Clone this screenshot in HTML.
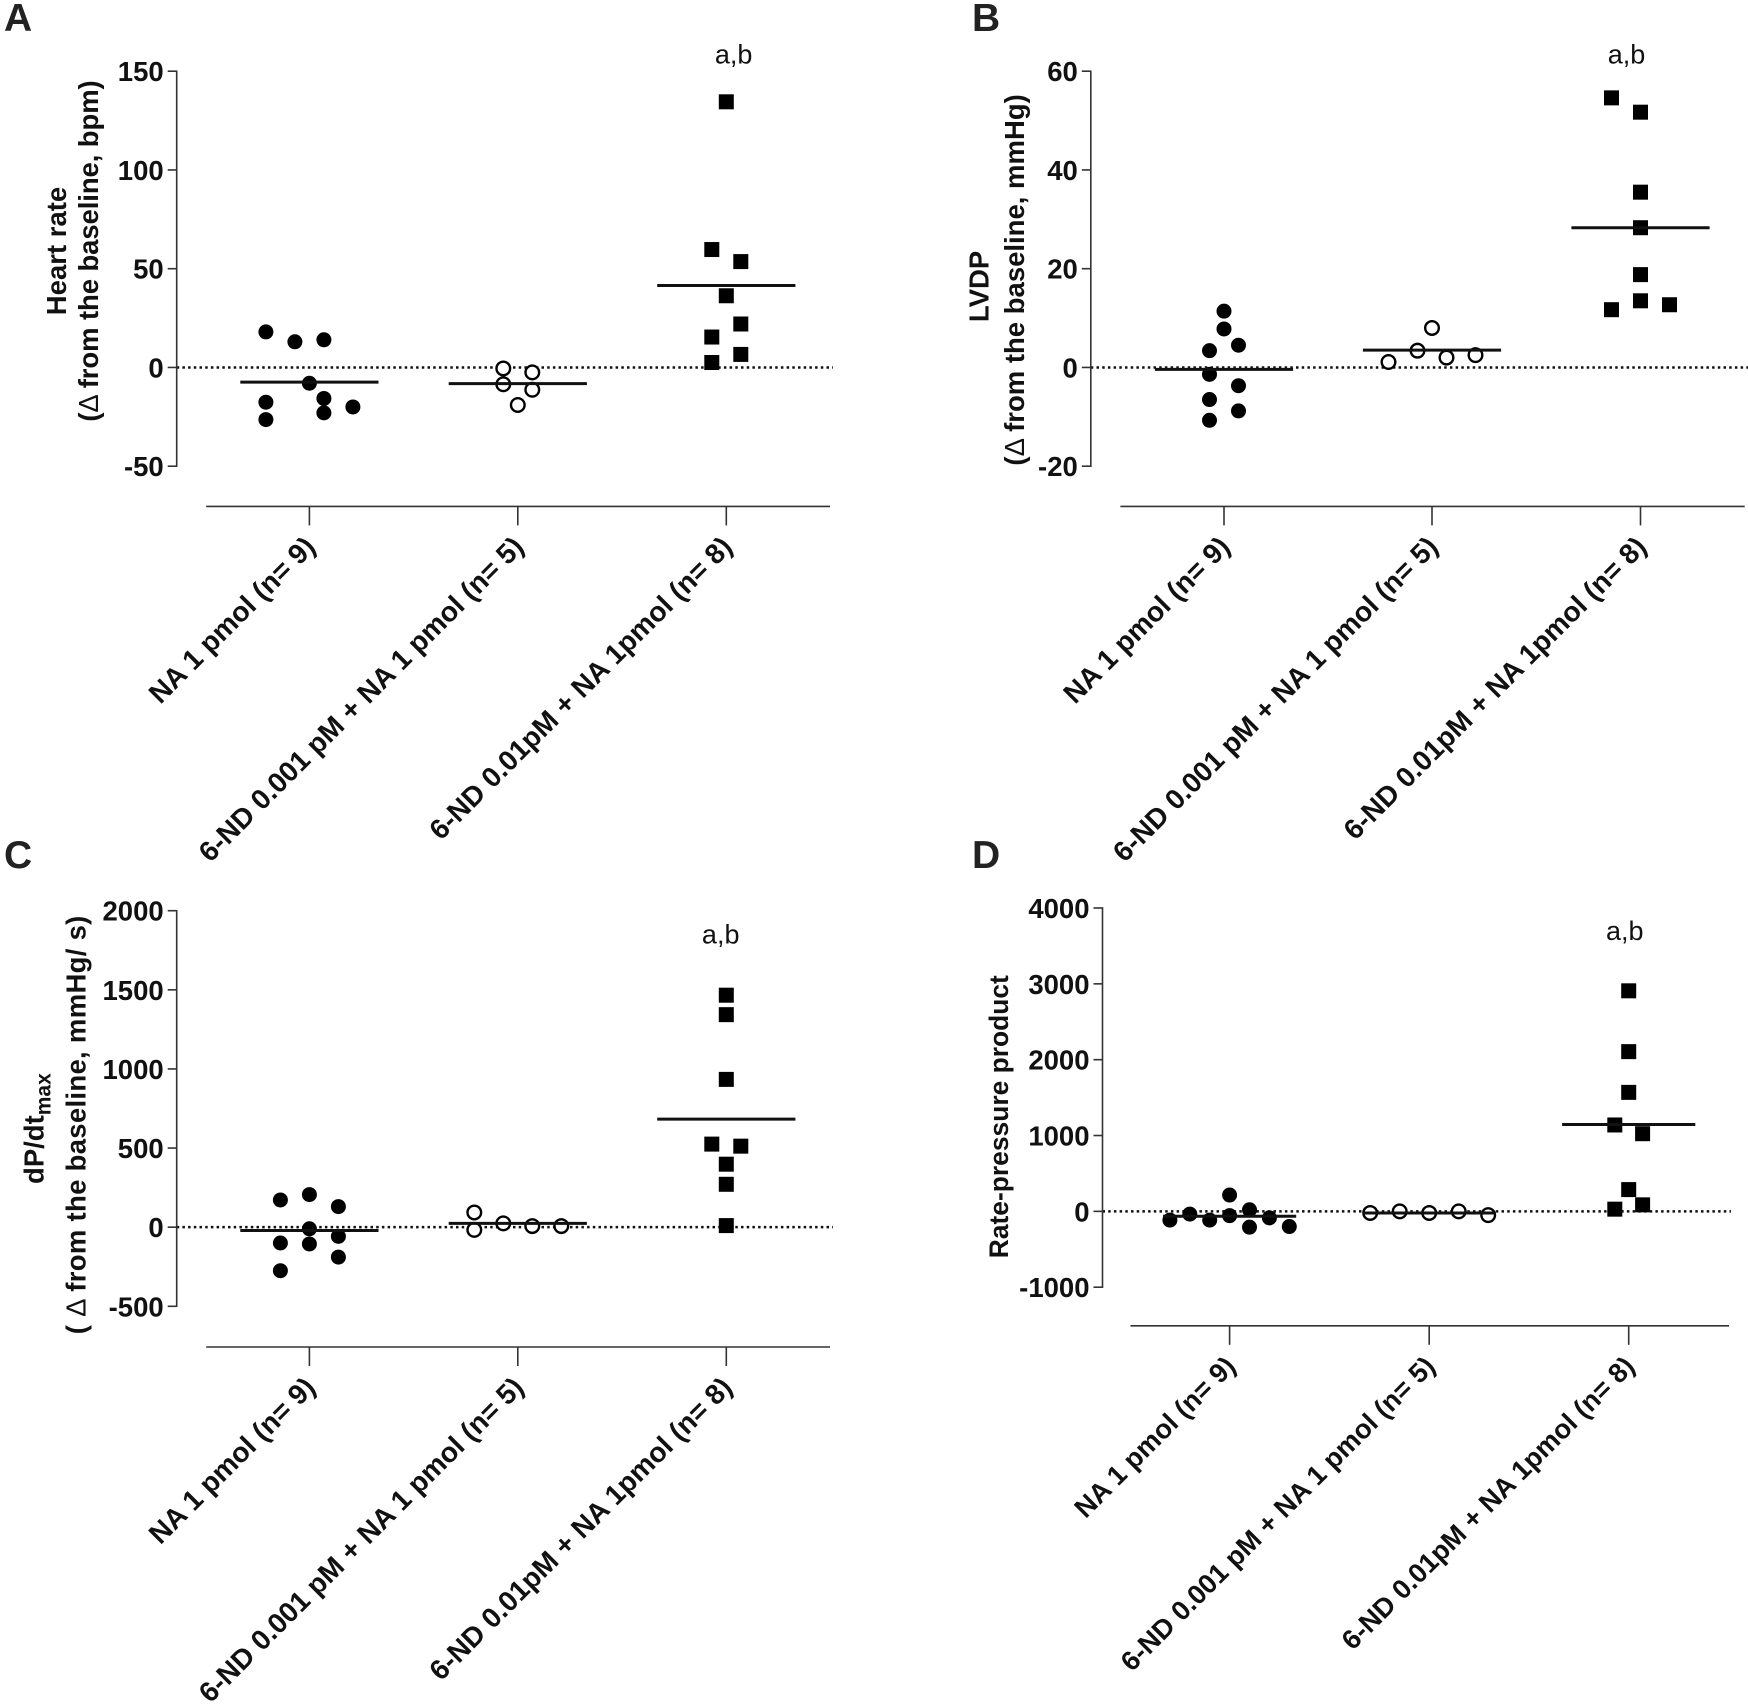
<!DOCTYPE html>
<html lang="en">
<head>
<meta charset="utf-8">
<title>Scatter plots of haemodynamic changes from baseline</title>
<style>
  html, body { margin: 0; padding: 0; background: #ffffff; }
  svg { display: block; font-family: "Liberation Sans", Arial, sans-serif; }
</style>
</head>
<body>
<svg id="figure" xmlns="http://www.w3.org/2000/svg" width="1748" height="1704" viewBox="0 0 1748 1704"></svg>
<script>
const categories = ["NA 1 pmol (n= 9)", "6-ND 0.001 pM + NA 1 pmol (n= 5)", "6-ND 0.01pM + NA 1pmol (n= 8)"];
const annotationLabel = "a,b";

const panelATicks = [150, 100, 50, 0, -50];
const panelAGroup1 = [18, 13, 14, -8, -17.6, -15.7, -20, -23, -26.4];
const panelAGroup2 = [-0.5, -2.5, -11.3, -8.5, -19];
const panelAGroup3 = [134.5, 59.7, 53.6, 36.3, 22, 15.4, 6.6, 2.5];
const panelAMeans = [-7.4, -8.2, 41.5];
const panelASlots1 = [-3, -1, 1, 0, -3, 1, 3, 1, -3];
const panelASlots2 = [-1, 1, 1, -1, 0];
const panelASlots3 = [0, -1, 1, 0, 1, -1, 1, -1];

const panelBTicks = [60, 40, 20, 0, -20];
const panelBGroup1 = [11.4, 7.8, 4.5, 3.4, -1.4, -3.7, -6.5, -8.8, -10.7];
const panelBGroup2 = [8, 3.4, 2.5, 2, 1.1];
const panelBGroup3 = [54.6, 51.7, 35.5, 28.3, 18.8, 13.5, 12.7, 11.7];
const panelBMeans = [-0.4, 3.5, 28.3];
const panelBSlots1 = [0, 0, 1, -1, -1, 1, -1, 1, -1];
const panelBSlots2 = [0, -1, 3, 1, -3];
const panelBSlots3 = [-2, 0, 0, 0, 0, 0, 2, -2];

const panelCTicks = [2000, 1500, 1000, 500, 0, -500];
const panelCGroup1 = [172, 206, 130, -10, -58, -100, -106, -189, -275];
const panelCGroup2 = [93, 24, 7, 7, -17];
const panelCGroup3 = [1466, 1343, 934, 525, 512, 398, 271, 10];
const panelCMeans = [-21, 24, 683];
const panelCSlots1 = [-2, 0, 2, 0, 2, -2, 0, 2, -2];
const panelCSlots2 = [-3, -1, 1, 3, -3];
const panelCSlots3 = [0, 0, 0, -1, 1, 0, 0, 0];

const panelDTicks = [4000, 3000, 2000, 1000, 0, -1000];
const panelDGroup1 = [-115, -36, -115, 215, -57, 21, -208, -86, -200];
const panelDGroup2 = [-21, 0, -21, 0, -50];
const panelDGroup3 = [2908, 2106, 1569, 1139, 1024, 287, 86, 29];
const panelDMeans = [-64, -21, 1146];
const panelDSlots1 = [-3, -2, -1, 0, 0, 1, 1, 2, 3];
const panelDSlots2 = [-2, -1, 0, 1, 2];
const panelDSlots3 = [0, 0, 0, -1, 1, 0, 1, -1];

const panels = [
  { id: "a", letter: "A", lx: 4, ly: 31,
    axisX: 176.7, top: 71.2, bottom: 466.2, dMax: 150, dMin: -50,
    baseY: 506.4, baseL: 206.2, baseR: 830, catX: [309.4, 517.8, 726.3], meanHalf: 69.1, dotEnd: 833,
    steps: [14.5, 14.5, 14.5], ticks: panelATicks, means: panelAMeans, catSize: 28.1, tickLen: 19,
    groups: [panelAGroup1, panelAGroup2, panelAGroup3], slots: [panelASlots1, panelASlots2, panelASlots3],
    noteX: 733.6, noteY: 63.5,
    title1: "Heart rate", t1Size: 27.5, t1x: 66, t1y: 251, title2: "from the baseline, bpm)", t2pre: "(", t2x: 98, t2y: 251, t2spacing: -0.1 },
  { id: "b", letter: "B", lx: 972, ly: 31,
    axisX: 1090.8, top: 71.2, bottom: 466.2, dMax: 60, dMin: -20,
    baseY: 506.4, baseL: 1120.4, baseR: 1744.7, catX: [1224, 1432, 1640.5], meanHalf: 69.1, dotEnd: 1748,
    steps: [14.5, 14.5, 14.5], ticks: panelBTicks, means: panelBMeans, catSize: 28.1, tickLen: 19,
    groups: [panelBGroup1, panelBGroup2, panelBGroup3], slots: [panelBSlots1, panelBSlots2, panelBSlots3],
    noteX: 1626.5, noteY: 63.5,
    title1: "LVDP", t1Size: 27.5, t1x: 988.6, t1y: 286.4, title2: "from the baseline, mmHg)", t2pre: "(", t2x: 1023.8, t2y: 279.9, t2spacing: 0 },
  { id: "c", letter: "C", lx: 4, ly: 868,
    axisX: 176.7, top: 910.7, bottom: 1306.3, dMax: 2000, dMin: -500,
    baseY: 1347, baseL: 206.2, baseR: 830, catX: [309.4, 517.8, 726.3], meanHalf: 69.1, dotEnd: 833,
    steps: [14.5, 14.5, 14.5], ticks: panelCTicks, means: panelCMeans, catSize: 28.1, tickLen: 19,
    groups: [panelCGroup1, panelCGroup2, panelCGroup3], slots: [panelCSlots1, panelCSlots2, panelCSlots3],
    noteX: 720.7, noteY: 943.3,
    title1: "dP/dt", title1Sub: "max", t1Size: 27.5, t1x: 43.6, t1y: 1128.6, title2: "from the baseline, mmHg/ s)", t2pre: "( ", t2x: 85.5, t2y: 1124.8, t2spacing: 0.3 },
  { id: "d", letter: "D", lx: 972, ly: 868,
    axisX: 1102.5, top: 908, bottom: 1287.2, dMax: 4000, dMin: -1000,
    baseY: 1325.8, baseL: 1130.4, baseR: 1729, catX: [1229.6, 1429.2, 1628.7], meanHalf: 66.6, dotEnd: 1731,
    steps: [19.9, 29.5, 13.9], ticks: panelDTicks, means: panelDMeans, catSize: 27.2, tickLen: 19,
    groups: [panelDGroup1, panelDGroup2, panelDGroup3], slots: [panelDSlots1, panelDSlots2, panelDSlots3],
    noteX: 1624.8, noteY: 940,
    title1: "Rate-pressure product", t1Size: 26.4, t1x: 1008, t1y: 1116.7 }
];

const svg = document.getElementById("figure");
const NS = "http://www.w3.org/2000/svg";

function make(tag, attrs, parent) {
  const el = document.createElementNS(NS, tag);
  for (const k in attrs) el.setAttribute(k, attrs[k]);
  parent.appendChild(el);
  return el;
}

function yScale(p, v) {
  return p.bottom + (v - p.dMin) / (p.dMax - p.dMin) * (p.top - p.bottom);
}

function xScale(p, groupIndex, slot) {
  return p.catX[groupIndex] + slot * p.steps[groupIndex];
}

panels.forEach(function (p) {
  const g = make("g", {}, svg);
  
  

  const letter = make("text", { x: p.lx, y: p.ly, "font-size": 39, "font-weight": "bold", fill: "#222" }, g);
  letter.textContent = p.letter;
  
  

  // zero reference line
  const zero = make("line", { x1: p.axisX, x2: p.dotEnd, y1: yScale(p, 0), y2: yScale(p, 0), stroke: "#111", "stroke-width": 2.5, "stroke-dasharray": "2.5 3.2" }, g);
  
  

  // y axis
  const yAxis = make("line", { x1: p.axisX, x2: p.axisX, y1: yScale(p, p.dMax) - 0.75, y2: yScale(p, p.dMin) + 0.75, stroke: "#333", "stroke-width": 1.6 }, g);
  
  

  p.ticks.forEach(function (t) {
    const ty = yScale(p, t);
    const tick = make("line", { x1: p.axisX - 9, x2: p.axisX, y1: ty, y2: ty, stroke: "#333", "stroke-width": 1.6 }, g);
    
    
    const lab = make("text", { x: p.axisX - 13, y: ty + 10, "text-anchor": "end", "font-size": 27.5, "font-weight": "bold", fill: "#111" }, g);
    lab.textContent = String(t);
    
    
  });

  // x axis
  const xAxis = make("line", { x1: p.baseL, x2: p.baseR, y1: p.baseY, y2: p.baseY, stroke: "#333", "stroke-width": 1.6 }, g);
  
  

  categories.forEach(function (c, i) {
    const cx = p.catX[i];
    const tick = make("line", { x1: cx, x2: cx, y1: p.baseY, y2: p.baseY + p.tickLen, stroke: "#333", "stroke-width": 1.6 }, g);
    
    
    const ax = cx + 7.5;
    const ay = p.baseY + p.tickLen + 23;
    const lab = make("text", { x: ax, y: ay, "text-anchor": "end", "font-size": p.catSize, "font-weight": "bold", fill: "#111", transform: "rotate(-45 " + ax + " " + ay + ")" }, g);
    lab.textContent = c;
    
    
  });

  // y axis titles
  const t1 = make("text", { x: p.t1x, y: p.t1y, "text-anchor": "middle", "font-size": p.t1Size, "font-weight": "bold", fill: "#111", transform: "rotate(-90 " + p.t1x + " " + p.t1y + ")" }, g);
  
  
  t1.appendChild(document.createTextNode(p.title1));
  if (p.title1Sub) {
    const sub = make("tspan", { dy: 7, "font-size": 21 }, t1);
    sub.textContent = p.title1Sub;
  }
  if (p.title2) {
    const t2 = make("text", { x: p.t2x, y: p.t2y, "text-anchor": "middle", "font-size": 27.5, "font-weight": "bold", fill: "#111", "letter-spacing": p.t2spacing, transform: "rotate(-90 " + p.t2x + " " + p.t2y + ")" }, g);
    
    
    t2.appendChild(document.createTextNode(p.t2pre));
    const delta = make("tspan", { "font-weight": "normal" }, t2);
    delta.textContent = "\u0394 ";
    t2.appendChild(document.createTextNode(p.title2));
  }

  // points
  p.groups.forEach(function (values, gi) {
    const slots = p.slots[gi];
    values.forEach(function (v, k) {
      const px = xScale(p, gi, slots[k]);
      const py = yScale(p, v);
      let mark;
      if (gi === 0) {
        mark = make("circle", { cx: px, cy: py, r: 7.5, fill: "#000" }, g);
        
      } else if (gi === 1) {
        mark = make("circle", { cx: px, cy: py, r: 6.8, fill: "#fff", stroke: "#000", "stroke-width": 2.4 }, g);
        
      } else {
        mark = make("rect", { x: px - 7.5, y: py - 7.5, width: 15, height: 15, fill: "#000" }, g);
        
      }
      
    });
  });

  // mean lines
  p.means.forEach(function (m, i) {
    const my = yScale(p, m);
    const line = make("line", { x1: p.catX[i] - p.meanHalf, x2: p.catX[i] + p.meanHalf, y1: my, y2: my, stroke: "#111", "stroke-width": 3 }, g);
    
    
  });

  const note = make("text", { x: p.noteX, y: p.noteY, "text-anchor": "middle", "font-size": 27, fill: "#111" }, g);
  note.textContent = annotationLabel;
  
  
});
</script>
</body>
</html>
